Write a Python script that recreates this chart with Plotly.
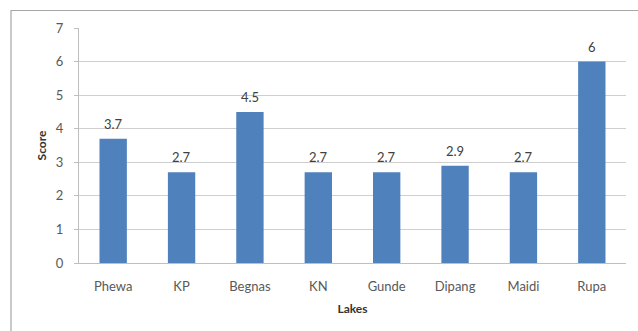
import plotly.graph_objects as go

# Lake scores
lakes = ["Phewa", "KP", "Begnas", "KN", "Gunde", "Dipang", "Maidi", "Rupa"]
scores = [3.7, 2.7, 4.5, 2.7, 2.7, 2.9, 2.7, 6]
y_ticks = [0, 1, 2, 3, 4, 5, 6, 7]

W, H = 638, 331
L, R, T, B = 79, 12, 28, 68
pw, ph = W - L - R, H - T - B

fig = go.Figure()
fig.add_trace(go.Bar(
    x=lakes, y=scores,
    marker=dict(color="#4F81BD", line=dict(width=0)),
    width=0.4,
    hoverinfo="x+y",
))

# value labels above each bar
for lake, s in zip(lakes, scores):
    fig.add_annotation(
        x=lake, y=s, text=f"{s:g}", showarrow=False,
        yanchor="bottom", yshift=5,
        font=dict(family="Lato, sans-serif", size=13, color="#404040"),
    )

# outer chart frame
def px_to_paper_x(px):
    return (px - L) / pw

def px_to_paper_y(py):
    return (H - B - py) / ph

fig.add_shape(
    type="rect", xref="paper", yref="paper",
    x0=px_to_paper_x(11), x1=px_to_paper_x(645),
    y0=px_to_paper_y(340), y1=px_to_paper_y(10.5),
    line=dict(color="#A6A6A6", width=1.2), fillcolor="rgba(0,0,0,0)",
    layer="below",
)

fig.update_layout(
    width=W, height=H,
    margin=dict(l=L, r=R, t=T, b=B),
    paper_bgcolor="white", plot_bgcolor="white",
    showlegend=False,
    bargap=0.6,
    font=dict(family="Lato, sans-serif", size=13, color="#595959"),
    xaxis=dict(
        showline=True, linecolor="#BFBFBF", linewidth=1,
        showgrid=False, ticks="", ticklabelstandoff=11,
        tickfont=dict(size=13, color="#595959"),
        title=dict(text="<b>Lakes</b>", standoff=12,
                   font=dict(size=12, color="#333333")),
    ),
    yaxis=dict(
        range=[0, 7], tickvals=y_ticks, showgrid=True,
        gridcolor="#CFCFCF", gridwidth=1,
        showline=True, linecolor="#BFBFBF", linewidth=1,
        ticks="outside", ticklen=4, tickcolor="#BFBFBF",
        ticklabelstandoff=8, zeroline=False,
        tickfont=dict(size=13, color="#595959"),
        title=dict(text="<b>Score</b>", standoff=6,
                   font=dict(size=12, color="#333333")),
    ),
)

fig.write_html("out.html")
